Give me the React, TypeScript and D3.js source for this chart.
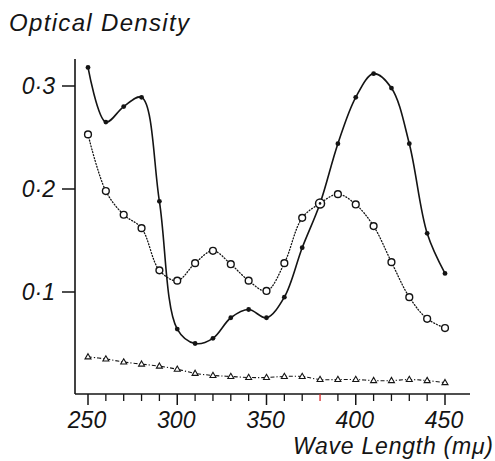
import React from "react";
import * as d3 from "d3";

const wavelengths = [250, 260, 270, 280, 290, 300, 310, 320, 330, 340, 350, 360, 370, 380, 390, 400, 410, 420, 430, 440, 450];
const solidSeries = [0.318, 0.265, 0.28, 0.289, 0.188, 0.064, 0.05, 0.055, 0.075, 0.083, 0.075, 0.095, 0.143, 0.186, 0.244, 0.289, 0.312, 0.298, 0.244, 0.157, 0.118];
const openSeries = [0.253, 0.198, 0.175, 0.162, 0.121, 0.111, 0.128, 0.14, 0.127, 0.111, 0.101, 0.128, 0.172, 0.186, 0.195, 0.185, 0.164, 0.129, 0.095, 0.074, 0.065];
const triangleSeries = [0.037, 0.035, 0.032, 0.03, 0.028, 0.025, 0.021, 0.019, 0.018, 0.017, 0.017, 0.018, 0.018, 0.015, 0.015, 0.015, 0.014, 0.014, 0.015, 0.014, 0.012];
const sharedWavelength = 380;
const xMajorTicks = [250, 300, 350, 400, 450];
const xMinorTicks = [260, 270, 280, 290, 310, 320, 330, 340, 360, 370, 380, 390, 410, 420, 430, 440];
const yTicks = [0.1, 0.2, 0.3];
const yTickLabels = ["0·1", "0·2", "0·3"];
const title = "Optical Density";
const xTitle = "Wave Length (mμ)";

const W = 495;
const H = 461;
const INK = "#141414";
const FONT = "'Liberation Sans', Arial, sans-serif";

export default function App() {
  const x = d3.scaleLinear().domain([250, 450]).range([88, 445]);
  const y = d3.scaleLinear().domain([0, 0.3]).range([395, 86]);
  const axisX = 75;
  const axisY = 394;

  const mk = (vals: number[]) => wavelengths.map((w, i) => [x(w), y(vals[i])] as [number, number]);
  const line = d3.line<[number, number]>().curve(d3.curveCatmullRom.alpha(0.5));
  const solidPts = mk(solidSeries);
  const openPts = mk(openSeries);
  const triPts = mk(triangleSeries);
  const tri = (cx: number, cy: number) => `M${cx},${cy - 3.2} L${cx + 3},${cy + 2} L${cx - 3},${cy + 2} Z`;

  return (
    <svg width={W} height={H} style={{ position: "absolute", left: 0, top: 0, background: "#fff" }}>
      <rect width={W} height={H} fill="#fff" />
      {/* titles */}
      <text x={9} y={31} fontFamily={FONT} fontStyle="italic" fontSize={24} fill={INK} textLength={180} lengthAdjust="spacing">{title}</text>
      <text x={293} y={454} fontFamily={FONT} fontStyle="italic" fontSize={23} fill={INK} textLength={200} lengthAdjust="spacing">{xTitle}</text>

      {/* axes */}
      <line x1={axisX} y1={59} x2={axisX} y2={axisY} stroke={INK} strokeWidth={1.6} />
      <line x1={axisX} y1={axisY} x2={470} y2={axisY} stroke={INK} strokeWidth={1.6} />
      {yTicks.map((t, i) => (
        <g key={t}>
          <line x1={axisX - 13} y1={y(t)} x2={axisX} y2={y(t)} stroke={INK} strokeWidth={1.5} />
          <text x={55} y={y(t) + 8} textAnchor="end" fontFamily={FONT} fontStyle="italic" fontSize={23} fill={INK}>{yTickLabels[i]}</text>
        </g>
      ))}
      {xMajorTicks.map((t) => (
        <g key={t}>
          <line x1={x(t)} y1={axisY} x2={x(t)} y2={axisY + 11} stroke={INK} strokeWidth={1.5} />
          <text x={x(t) - 1} y={428} textAnchor="middle" fontFamily={FONT} fontStyle="italic" fontSize={23} fill={INK}>{t}</text>
        </g>
      ))}
      {xMinorTicks.map((t) => (
        <line key={t} x1={x(t)} y1={axisY} x2={x(t)} y2={axisY + 7} stroke={t === sharedWavelength ? "#d62828" : INK} strokeWidth={1.3} />
      ))}

      {/* curves */}
      <path d={line(triPts) || ""} fill="none" stroke={INK} strokeWidth={1.1} strokeDasharray="4 2 1.2 2" />
      <path d={line(openPts) || ""} fill="none" stroke={INK} strokeWidth={1.3} strokeDasharray="1 2" strokeLinecap="round" />
      <path d={line(solidPts) || ""} fill="none" stroke={INK} strokeWidth={1.6} />

      {/* markers */}
      {triPts.map(([cx, cy], i) => (
        <path key={"t" + i} d={tri(cx, cy)} fill="#fff" stroke={INK} strokeWidth={1.1} />
      ))}
      {openPts.map(([cx, cy], i) =>
        wavelengths[i] === sharedWavelength ? null : (
          <circle key={"o" + i} cx={cx} cy={cy} r={3.4} fill="#fff" stroke={INK} strokeWidth={1.4} />
        )
      )}
      {solidPts.map(([cx, cy], i) =>
        wavelengths[i] === sharedWavelength ? (
          <g key={"s" + i}>
            <circle cx={cx} cy={cy} r={4.5} fill="#fff" stroke={INK} strokeWidth={1.5} />
            <circle cx={cx} cy={cy} r={1.3} fill={INK} />
          </g>
        ) : (
          <circle key={"s" + i} cx={cx} cy={cy} r={2.4} fill={INK} />
        )
      )}
    </svg>
  );
}
